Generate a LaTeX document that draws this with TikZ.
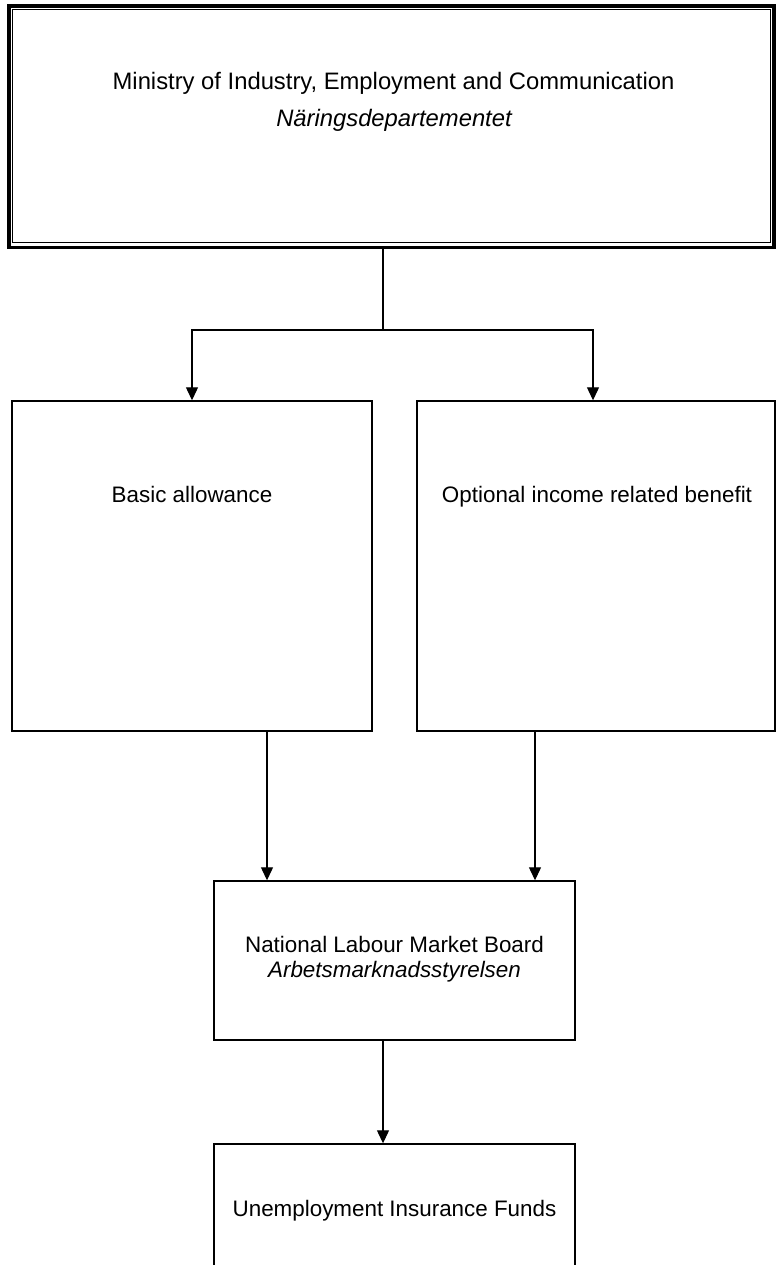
\documentclass[tikz,border=0pt]{standalone}
\usepackage{fontspec}
\setmainfont{Liberation Sans}
\usetikzlibrary{arrows.meta}
\begin{document}
\begin{tikzpicture}[x=1pt,y=-1pt,
  box/.style={draw, line width=1.4pt, inner sep=0pt},
  txt/.style={anchor=base, inner sep=0pt, font=\fontsize{22.4}{26}\selectfont},
  txtit/.style={anchor=base, inner sep=0pt, font=\fontsize{22.4}{26}\selectfont\itshape},
  arr/.style={line width=1.2pt, -{Triangle[length=13pt,width=12pt]}},
  conn/.style={line width=1.2pt}]
\useasboundingbox (0,0) rectangle (776,1265);
\fill[white] (0,0) rectangle (776,1265);
\clip (0,0) rectangle (776,1265);

% top box (double border)
\node[box, line width=3.2pt, minimum width=765pt, minimum height=241.5pt] (ministry) at (391.5,126.75) {};
\draw[line width=1pt] ([shift={(5.5,5.5)}]ministry.north west) rectangle ([shift={(-5.5,-6.5)}]ministry.south east);
\node[txt, font=\fontsize{23.8}{28}\selectfont] (minA) at (393.5,90) {Ministry of Industry, Employment and Communication};
\node[txt, font=\fontsize{23.8}{28}\selectfont\itshape] (minB) at (394,127) {Näringsdepartementet};

% middle boxes
\node[box, minimum width=360pt, minimum height=330pt] (basic) at (192,566) {};
\node[txt] (basicT) at (192,502) {Basic allowance};
\node[box, minimum width=358pt, minimum height=330pt] (optional) at (596,566) {};
\node[txt] (optT) at (597,502) {Optional income related benefit};

% board
\node[box, minimum width=361pt, minimum height=159pt] (nlmb) at (394.5,960.5) {};
\node[txt] (nlmbA) at (394.5,952) {National Labour Market Board};
\node[txtit] (nlmbB) at (394.5,977) {Arbetsmarknadsstyrelsen};

% funds
\node[box, minimum width=361pt, minimum height=160pt] (uif) at (394.5,1224) {};
\node[txt] (uifT) at (394.5,1216) {Unemployment Insurance Funds};

% connectors
\coordinate (j) at (383,330);
\draw[conn] (ministry.south -| j) -- (j);
\path ([xshift=-3pt]optional.north) coordinate (on);
\draw[arr] (j) -| (basic.north);
\draw[arr] (j) -| (on);
\path ([xshift=75pt]basic.south) coordinate (bs);
\draw[arr] (bs) -- (bs |- nlmb.north);
\path ([xshift=-61pt]optional.south) coordinate (os);
\draw[arr] (os) -- (os |- nlmb.north);
\path ([xshift=-11.5pt]nlmb.south) coordinate (ns);
\draw[arr] (ns) -- (ns |- uif.north);
\end{tikzpicture}
\end{document}
